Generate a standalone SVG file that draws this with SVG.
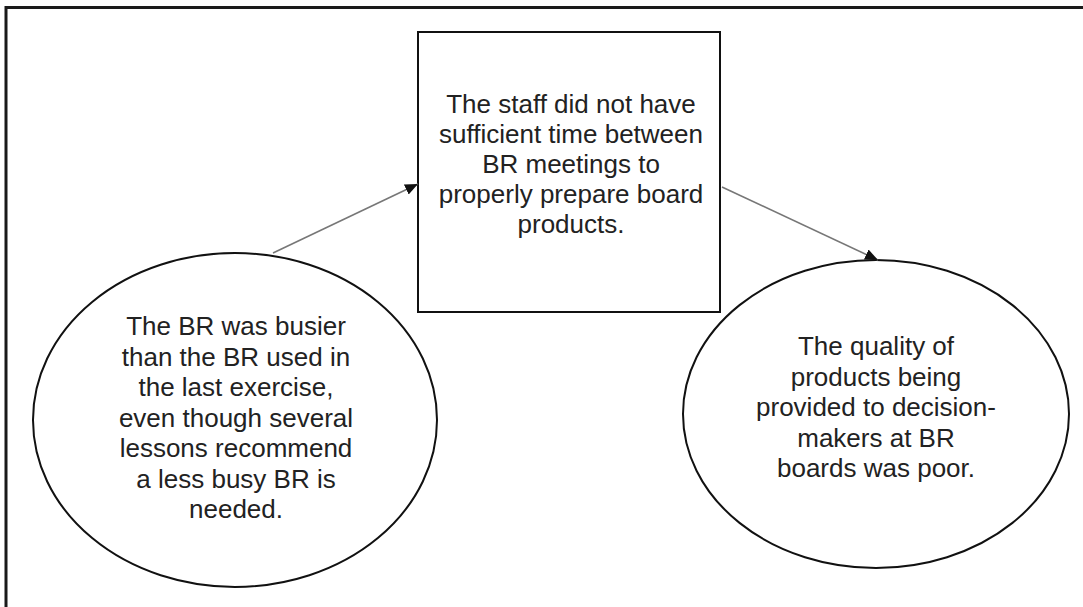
<svg xmlns="http://www.w3.org/2000/svg" width="1083" height="607" viewBox="0 0 1083 607">
<style>
.shape{fill:#fff;stroke:#111;stroke-width:2}
.lbl{font-family:"Liberation Sans",Arial,sans-serif;font-size:26px;fill:#222;text-anchor:middle}
.conn{stroke:#777;stroke-width:1.6;fill:none}
</style>
<defs>
<marker id="ah" viewBox="0 0 13 11" refX="13" refY="5.5" markerWidth="13" markerHeight="11" orient="auto" markerUnits="userSpaceOnUse">
<path d="M0,0 L13,5.5 L0,11 z" fill="#111"/>
</marker>
</defs>
<rect x="0" y="0" width="1083" height="607" fill="#fff"/>
<path d="M6,607 V7.5 H1083" fill="none" stroke="#1a1a1a" stroke-width="3"/>
<g id="node-box">
<rect class="shape" x="418" y="32" width="302" height="280"/>
<text class="lbl" x="571" y="113">The staff did not have</text>
<text class="lbl" x="571" y="143">sufficient time between</text>
<text class="lbl" x="571" y="173">BR meetings to</text>
<text class="lbl" x="571" y="203">properly prepare board</text>
<text class="lbl" x="571" y="233">products.</text>
</g>
<g id="node-left">
<ellipse class="shape" cx="235" cy="420" rx="202" ry="167"/>
<text class="lbl" x="236" y="335">The BR was busier</text>
<text class="lbl" x="236" y="365.5">than the BR used in</text>
<text class="lbl" x="236" y="396">the last exercise,</text>
<text class="lbl" x="236" y="426.5">even though several</text>
<text class="lbl" x="236" y="457">lessons recommend</text>
<text class="lbl" x="236" y="487.5">a less busy BR is</text>
<text class="lbl" x="236" y="518">needed.</text>
</g>
<g id="node-right">
<ellipse class="shape" cx="876" cy="414" rx="193" ry="154"/>
<text class="lbl" x="876" y="355">The quality of</text>
<text class="lbl" x="876" y="385.5">products being</text>
<text class="lbl" x="876" y="416">provided to decision-</text>
<text class="lbl" x="876" y="446.5">makers at BR</text>
<text class="lbl" x="876" y="477">boards was poor.</text>
</g>
<g id="connectors">
<line class="conn" x1="273" y1="253" x2="418" y2="184" marker-end="url(#ah)"/>
<line class="conn" x1="722" y1="187" x2="878" y2="260" marker-end="url(#ah)"/>
</g>
</svg>
